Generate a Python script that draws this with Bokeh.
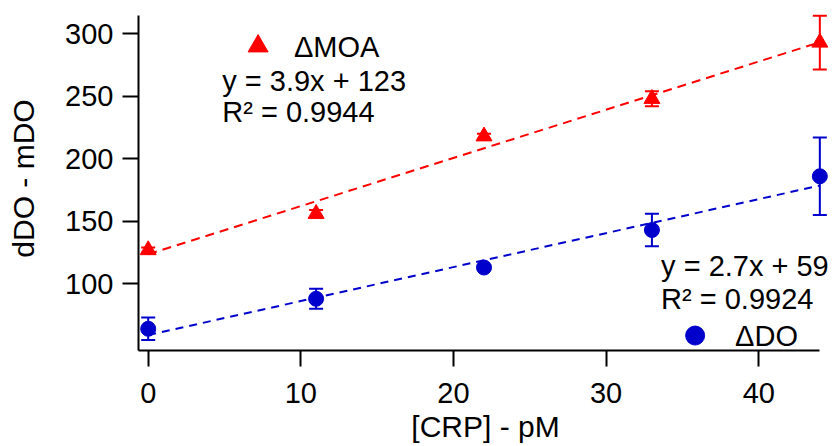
import numpy as np
from bokeh.plotting import figure
from bokeh.models import Range1d, Whisker, TeeHead, ColumnDataSource, Label
from bokeh.embed import file_html
from bokeh.resources import INLINE

# ---- data ----
crp = [0, 11, 22, 33, 44]
moa = [127, 156, 218, 248, 293]
moa_err = [2, 3, 2, 6, 21.5]
dDO = [64, 88, 113, 143, 186]
dDO_err = [9, 8, 2, 13, 31]
x_ticks = [0, 10, 20, 30, 40]
y_ticks = [100, 150, 200, 250, 300]
moa_name = "\u0394MOA"
do_name = "\u0394DO"
moa_eq = ["y = 3.9x + 123", "R\u00b2 = 0.9944"]
do_eq = ["y = 2.7x + 59", "R\u00b2 = 0.9924"]
x_title = "[CRP] - pM"
y_title = "dDO - mDO"

RED = "#ff0000"
BLUE = "#0000cc"
FONT = "Liberation Sans"

p = figure(width=834, height=446, output_backend="svg", toolbar_location=None,
           x_range=Range1d(-0.635, 44.83), y_range=Range1d(46.64, 321.8),
           min_border_left=138, min_border_right=2, min_border_top=6,
           min_border_bottom=96)
p.outline_line_color = None
p.grid.visible = False

for ax in (p.xaxis[0], p.yaxis[0]):
    ax.axis_line_width = 2
    ax.major_tick_line_width = 2
    ax.major_tick_in = 0
    ax.major_tick_out = 16
    ax.minor_tick_line_color = None
    ax.major_label_text_font = FONT
    ax.major_label_text_font_size = "29px"
    ax.major_label_text_color = "black"
    ax.axis_label_text_font = FONT
    ax.axis_label_text_font_size = "30px"
    ax.axis_label_text_font_style = "normal"
    ax.axis_label_text_color = "black"

p.xaxis.ticker = x_ticks
p.yaxis.ticker = y_ticks
p.xaxis.bounds = (-0.635, 44)
p.yaxis.bounds = (46.64, 314.6)
p.xaxis.axis_label = x_title
p.yaxis.axis_label = y_title
p.yaxis.major_label_standoff = 9
p.xaxis.major_label_standoff = 16
p.xaxis.axis_label_standoff = 4
p.yaxis.axis_label_standoff = 22

# ---- fit lines (least squares on the data) ----
xs = np.array(crp, dtype=float)
for ys, col, dash in ((moa, RED, "9 6"), (dDO, BLUE, "8 6")):
    k, b = np.polyfit(xs, np.array(ys, dtype=float), 1)
    xl = [xs.min(), xs.max()]
    p.line(xl, [k * v + b for v in xl], line_color=col, line_width=2, line_dash=dash)

# ---- error bars ----
def add_err(ys, errs, col):
    src = ColumnDataSource(dict(x=crp,
                                upper=[a + e for a, e in zip(ys, errs)],
                                lower=[a - e for a, e in zip(ys, errs)]))
    w = Whisker(source=src, base="x", upper="upper", lower="lower",
                line_color=col, line_width=2,
                upper_head=TeeHead(size=14, line_color=col, line_width=2),
                lower_head=TeeHead(size=14, line_color=col, line_width=2))
    p.add_layout(w)

add_err(moa, moa_err, RED)
add_err(dDO, dDO_err, BLUE)

# ---- markers ----
p.scatter(crp, moa, marker="triangle", size=16, fill_color=RED, line_color=RED)
p.scatter(crp, dDO, marker="circle", size=15, fill_color=BLUE, line_color=BLUE)

# ---- legend-like annotations ----
p.scatter([7.2], [290.1], marker="triangle", size=20, fill_color=RED, line_color=RED)
p.scatter([35.83], [58.6], marker="circle", size=19, fill_color=BLUE, line_color=BLUE)

def lab(x, y, t):
    p.add_layout(Label(x=x, y=y, text=t, text_font=FONT, text_font_size="29px",
                       text_baseline="middle", text_align="left", text_color="black"))

lab(9.55, 289.3, moa_name)
lab(4.85, 262.6, moa_eq[0])
lab(4.85, 237.3, moa_eq[1])
lab(33.6, 114.6, do_eq[0])
lab(33.6, 88.2, do_eq[1])
lab(38.45, 58.6, do_name)

open("out.html", "w").write(file_html(p, INLINE))
